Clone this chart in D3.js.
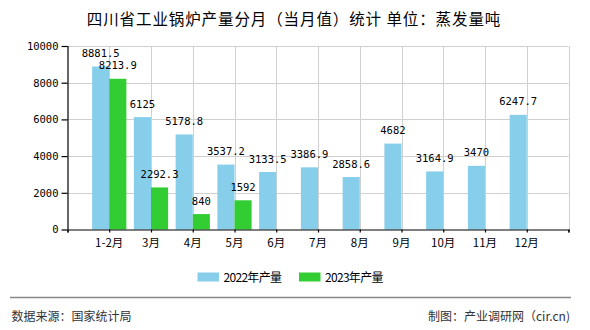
<!DOCTYPE html>
<html><head><meta charset="utf-8">
<script src="https://cdn.jsdelivr.net/npm/d3@7/dist/d3.min.js"></script>
<style>body{margin:0;background:#fff}svg{display:block}</style>
</head><body>
<svg id="c" width="590" height="330"></svg>
<script>
const categories = ["1-2月","3月","4月","5月","6月","7月","8月","9月","10月","11月","12月"];
const values2022 = [8881.5,6125,5178.8,3537.2,3133.5,3386.9,2858.6,4682,3164.9,3470,6247.7];
const values2023 = [8213.9,2292.3,840,1592,null,null,null,null,null,null,null];
const seriesNames = ["2022年产量","2023年产量"];
const yTicks = [0,2000,4000,6000,8000,10000];
const titleText = "四川省工业锅炉产量分月（当月值）统计 单位：蒸发量吨";
const sourceText = "数据来源：国家统计局";
const creditText = "制图：产业调研网（cir.cn)";

const colors = ["#87CEEB","#32CD32"];
const svg = d3.select("#c");
const cjk = "'Noto Sans CJK SC', sans-serif";
const mono = "'DejaVu Sans Mono', 'Liberation Mono', monospace";

const L = 67.5, R = 568.5, T = 46, B = 229.5;
const x = d3.scaleLinear().domain([0, categories.length + 1]).range([L, R]);
const y = d3.scaleLinear().domain([0, 10000]).range([B, T]);
const step = x(1) - x(0);
const bw = step * 0.41;

// title
svg.append("text").attr("x", 294).attr("y", 25).attr("text-anchor", "middle")
  .attr("font-family", cjk).attr("font-size", 15.5).attr("letter-spacing", 0.9)
  .attr("fill", "#000").text(titleText);

// grid
const g = svg.append("g");
g.selectAll(".hg").data(yTicks.filter(d => d > 0)).enter().append("line")
  .attr("x1", L).attr("x2", R).attr("y1", d => Math.round(y(d)) + 0.5).attr("y2", d => Math.round(y(d)) + 0.5)
  .attr("stroke", "#d0d0d0").attr("stroke-width", 1);
g.selectAll(".vg").data(d3.range(1, categories.length + 2)).enter().append("line")
  .attr("x1", d => Math.round(x(d)) + 0.5).attr("x2", d => Math.round(x(d)) + 0.5)
  .attr("y1", T).attr("y2", B)
  .attr("stroke", "#d0d0d0").attr("stroke-width", 1);

// bars
const bars = svg.append("g");
bars.selectAll(".b22").data(values2022).enter().append("rect")
  .attr("x", (d, i) => x(i + 1) - bw).attr("width", bw)
  .attr("y", d => y(d)).attr("height", d => y(0) - y(d)).attr("fill", colors[0]);
const d23 = values2023.map((v, i) => ({v, i})).filter(d => d.v != null);
bars.selectAll(".b23").data(d23).enter().append("rect")
  .attr("x", d => x(d.i + 1)).attr("width", bw)
  .attr("y", d => y(d.v)).attr("height", d => y(0) - y(d.v)).attr("fill", colors[1]);

// axes
const xAxis = d3.axisBottom(x).tickValues(d3.range(0, categories.length + 2)).tickSize(3).tickFormat("");
const ax = svg.append("g").attr("transform", `translate(0,${B})`).call(xAxis);
ax.selectAll("path,line").attr("stroke", "#000").attr("stroke-width", 1.2);
const yAxis = d3.axisLeft(y).tickValues(yTicks).tickSize(6).tickPadding(3).tickFormat(d3.format("d"));
const ay = svg.append("g").attr("transform", `translate(${L},0)`).call(yAxis);
ay.selectAll("path,line").attr("stroke", "#000").attr("stroke-width", 1.2);
ay.select(".domain").attr("d", `M0.5,${T}V${B}`);
ay.selectAll("text").attr("font-family", mono).attr("font-size", 10.5).attr("fill", "#000");

// x labels
svg.append("g").selectAll("text").data(categories).enter().append("text")
  .attr("x", (d, i) => x(i + 1)).attr("y", 246.5).attr("text-anchor", "middle")
  .attr("font-family", cjk).attr("font-size", 11.5).attr("fill", "#000").text(d => d);

// value labels
const lab = svg.append("g").attr("font-family", mono).attr("font-size", 10.5).attr("fill", "#000").attr("text-anchor", "middle");
lab.selectAll(".l22").data(values2022).enter().append("text")
  .attr("x", (d, i) => x(i + 1) - bw / 2).attr("y", d => y(d) - 9.5).text(d => d);
lab.selectAll(".l23").data(d23).enter().append("text")
  .attr("x", d => x(d.i + 1) + bw / 2).attr("y", d => y(d.v) - 9.5).text(d => d.v);

// legend
const legX = [197.5, 299];
const leg = svg.append("g");
seriesNames.forEach((n, i) => {
  leg.append("rect").attr("x", legX[i]).attr("y", 272.5).attr("width", 21.5).attr("height", 9).attr("fill", colors[i]);
  leg.append("text").attr("x", legX[i] + 26).attr("y", 281.5).attr("font-family", cjk)
    .attr("font-size", 12).attr("fill", "#000").attr("textLength", 58.5).text(n);
});

// footer
svg.append("line").attr("x1", 10).attr("x2", 571).attr("y1", 297.5).attr("y2", 297.5)
  .attr("stroke", "#888").attr("stroke-width", 1.3);
svg.append("text").attr("x", 11.5).attr("y", 321).attr("font-family", cjk).attr("font-size", 12)
  .attr("fill", "#333").text(sourceText);
svg.append("text").attr("x", 570).attr("y", 321).attr("text-anchor", "end").attr("font-family", cjk).attr("font-size", 12)
  .attr("fill", "#333").text(creditText);
</script>
</body></html>
